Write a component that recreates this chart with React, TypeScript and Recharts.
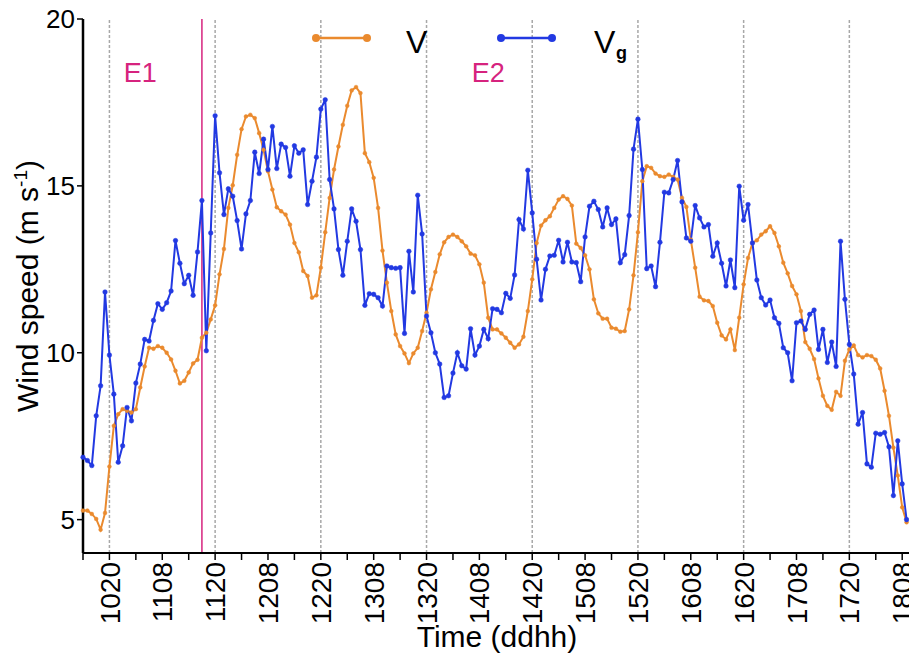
import { Line, LineChart, ReferenceLine, XAxis, YAxis } from "recharts";

// hourly samples starting at 10th 14:00 (ddhh = 1014)
const firstStamp = "1014";

const windV = [
  5.27, 5.27, 5.17, 5.02, 4.7, 5.2, 6.59, 7.81, 8.16, 8.31, 8.26, 8.21, 8.31, 8.96, 9.59, 10.15,
  10.12, 10.2, 10.15, 10.0, 9.8, 9.46, 9.08, 9.16, 9.41, 9.68, 9.79, 10.45, 10.6, 11.0, 11.42, 12.35,
  13.11, 14.34, 15.02, 15.93, 16.7, 17.08, 17.13, 17.03, 16.58, 16.08, 15.44, 14.89, 14.36, 14.24,
  14.14, 13.84, 13.29, 13.01, 12.45, 12.3, 11.65, 11.72, 12.55, 13.61, 14.64, 15.49, 16.18, 16.83,
  17.4, 17.86, 17.96, 17.78, 15.98, 15.71, 15.24, 14.34, 13.06, 12.1, 11.25, 10.55, 10.2, 9.98, 9.69,
  9.98, 10.15, 10.65, 11.2, 11.9, 12.42, 12.95, 13.31, 13.47, 13.54, 13.47, 13.34, 13.19, 12.97,
  12.92, 12.65, 12.1, 11.05, 10.7, 10.7, 10.58, 10.45, 10.3, 10.15, 10.25, 10.48, 11.25, 12.2, 13.29,
  13.81, 13.97, 14.09, 14.34, 14.59, 14.69, 14.61, 14.41, 13.27, 13.14, 12.92, 12.5, 11.6, 11.18,
  11.02, 11.02, 10.75, 10.72, 10.63, 10.65, 11.3, 12.32, 13.61, 15.14, 15.59, 15.54, 15.37, 15.29,
  15.27, 15.34, 15.27, 15.19, 14.64, 14.37, 13.39, 12.55, 11.68, 11.57, 11.55, 11.4, 10.9, 10.52,
  10.4, 10.7, 10.08, 11.05, 12.05, 12.84, 13.29, 13.37, 13.54, 13.64, 13.79, 13.59, 13.19, 12.7,
  12.38, 12.0, 11.75, 11.25, 10.32, 10.12, 9.81, 9.23, 8.71, 8.41, 8.29, 8.83, 8.71, 9.76, 10.1,
  10.22, 9.93, 9.86, 9.93, 9.9, 9.79, 9.53, 8.86, 8.11, 7.16, 6.32, 5.37, 4.92,
];

const windVg = [
  6.87, 6.77, 6.62, 8.11, 9.01, 11.82, 9.93, 8.76, 6.72, 7.21, 8.36, 7.96, 9.09, 9.66, 10.4, 10.35,
  10.97, 11.47, 11.3, 11.5, 11.85, 13.36, 12.68, 12.07, 12.32, 11.72, 13.02, 14.56, 10.06, 13.59,
  17.1, 15.39, 14.14, 14.91, 14.69, 13.96, 13.11, 14.16, 14.56, 16.01, 15.37, 16.4, 15.49, 16.78,
  15.52, 16.25, 16.15, 15.29, 16.2, 15.98, 16.08, 14.44, 15.14, 15.86, 17.3, 17.58, 15.19, 14.31,
  13.09, 12.32, 13.34, 14.31, 13.94, 13.09, 11.42, 11.77, 11.75, 11.65, 11.4, 12.6, 12.55, 12.53,
  12.55, 10.58, 13.04, 11.82, 14.72, 13.56, 11.1, 10.6, 10.0, 9.66, 8.66, 8.71, 9.39, 10.0, 9.61,
  9.51, 10.72, 9.93, 10.2, 10.7, 10.42, 11.32, 11.3, 11.2, 11.78, 11.63, 12.33, 13.99, 13.71, 15.47,
  14.19, 12.8, 11.58, 12.5, 12.9, 12.92, 13.37, 12.72, 13.31, 12.72, 12.7, 12.13, 13.47, 14.39,
  14.54, 14.29, 13.77, 14.34, 13.84, 14.01, 12.7, 12.94, 14.11, 16.1, 17.0, 15.49, 12.52, 12.6,
  11.98, 13.31, 14.81, 14.79, 15.19, 15.76, 14.52, 13.44, 13.34, 14.41, 14.04, 13.77, 13.84, 12.89,
  13.29, 12.68, 12.0, 12.78, 11.95, 14.99, 13.97, 14.44, 13.29, 12.18, 11.65, 11.43, 11.58, 11.05,
  10.88, 10.15, 10.0, 9.16, 10.9, 10.95, 10.7, 11.15, 11.28, 10.1, 10.7, 9.71, 10.32, 9.59, 13.34,
  11.6, 10.25, 9.36, 7.86, 8.21, 6.67, 6.57, 7.59, 7.56, 7.61, 7.18, 5.72, 7.36, 6.07, 5.0,
];

const timeLabels = [
  "1020", "1108", "1120", "1208", "1220", "1308", "1320", "1408",
  "1420", "1508", "1520", "1608", "1620", "1708", "1720", "1808",
];
const gridStamps = ["1020", "1120", "1220", "1320", "1420", "1520", "1620", "1720"];
const speedTicks = [5, 10, 15, 20];

const events = [
  { name: "E1", at: "1103", line: "1117" },
  { name: "E2", at: "1410", line: null },
];

const ORANGE = "#ea8a2e";
const BLUE = "#2239e2";
const PINK = "#d6237e";
const FONT = "'Liberation Sans', Arial, sans-serif";

// ddhh -> hours since the first sample
function hourOf(stamp: string) {
  const day = (s: string) => Number(s.slice(0, 2)) * 24 + Number(s.slice(2));
  return day(stamp) - day(firstStamp);
}

const rows = windV.map((v, i) => ({ hour: i, v, vg: windVg[i] }));
const labelByHour = new Map(timeLabels.map((t) => [hourOf(t), t]));
const xTicks = timeLabels.flatMap((t) => [hourOf(t) - 6, hourOf(t)]);

function TimeTick({ x, y, payload }: any) {
  const label = labelByHour.get(payload.value);
  if (!label) return null;
  const ty = y;
  return (
    <text
      x={x}
      y={ty}
      dy="0.36em"
      transform={`rotate(-90 ${x} ${ty})`}
      textAnchor="end"
      fontSize={28}
      fontFamily={FONT}
      fill="#000"
    >
      {label}
    </text>
  );
}

function SpeedLabel() {
  return (
    <text
      transform="translate(38 286) rotate(-90)"
      textAnchor="middle"
      fontSize={30}
      fontFamily={FONT}
      fill="#000"
    >
      Wind speed (m s
      <tspan dy={-11} fontSize={19}>-1</tspan>
      <tspan dy={11}>)</tspan>
    </text>
  );
}

// series key drawn inside the top of the plot
function SeriesKey() {
  const item = (x: number, color: string) => (
    <g>
      <line x1={x} y1={38} x2={x + 51} y2={38} stroke={color} strokeWidth={2.5} />
      <circle cx={x} cy={38} r={4} fill={color} />
      <circle cx={x + 51} cy={38} r={4} fill={color} />
    </g>
  );
  return (
    <svg
      width={909}
      height={70}
      style={{ position: "absolute", left: 0, top: 0, pointerEvents: "none" }}
    >
      {item(316, ORANGE)}
      <text x={406} y={53} fontSize={32} fontFamily={FONT}>V</text>
      {item(501, BLUE)}
      <text x={594} y={53} fontSize={32} fontFamily={FONT}>V</text>
      <text x={616} y={59} fontSize={18} fontFamily={FONT} fontWeight="bold">g</text>
    </svg>
  );
}

function eventText(name: string) {
  return ({ viewBox }: any) => (
    <text
      x={viewBox.x}
      y={viewBox.y + 63}
      textAnchor="middle"
      fontSize={27}
      fontFamily={FONT}
      fill={PINK}
    >
      {name}
    </text>
  );
}

export default function App() {
  return (
    <div
      style={{
        position: "fixed",
        left: 0,
        top: 0,
        width: 909,
        height: 656,
        overflow: "hidden",
        background: "#fff",
      }}
    >
      <LineChart
        width={930}
        height={656}
        data={rows}
        margin={{ top: 19, right: 19, bottom: 13, left: 23 }}
      >
        <XAxis
          dataKey="hour"
          type="number"
          domain={[0, 188]}
          ticks={xTicks}
          interval={0}
          height={90}
          tick={<TimeTick />}
          tickSize={7}
          tickLine={{ stroke: "#000", strokeWidth: 1.5 }}
          axisLine={{ stroke: "#000", strokeWidth: 2 }}
          label={{
            value: "Time (ddhh)",
            position: "insideBottom",
            offset: -4,
            fontSize: 30,
            fontFamily: FONT,
            fill: "#000",
          }}
        />
        <XAxis
          xAxisId="frame"
          orientation="top"
          dataKey="hour"
          type="number"
          domain={[0, 188]}
          height={0}
          tick={false}
          tickLine={false}
          axisLine={{ stroke: "#000", strokeWidth: 2.5 }}
        />
        <YAxis
          type="number"
          domain={[4, 20]}
          ticks={speedTicks}
          interval={0}
          width={60}
          tickSize={6}
          tickLine={{ stroke: "#000", strokeWidth: 1.5 }}
          axisLine={{ stroke: "#000", strokeWidth: 2.5 }}
          tick={{ fontSize: 26, fontFamily: FONT, fill: "#000" }}
          label={<SpeedLabel />}
        />
        {gridStamps.map((s) => (
          <ReferenceLine
            key={s}
            x={hourOf(s)}
            stroke="#a8a8a8"
            strokeWidth={1.5}
            strokeDasharray="3 2"
          />
        ))}
        {events.map((e) => (
          <ReferenceLine key={e.name} x={hourOf(e.at)} stroke="none" label={eventText(e.name)} />
        ))}
        {events
          .filter((e) => e.line)
          .map((e) => (
            <ReferenceLine key={e.name + "-line"} x={hourOf(e.line as string)} stroke={PINK} strokeWidth={1.5} />
          ))}
        <Line
          dataKey="v"
          type="linear"
          stroke={ORANGE}
          strokeWidth={2}
          dot={{ r: 1.9, fill: ORANGE, stroke: ORANGE, strokeWidth: 0.5 }}
          isAnimationActive={false}
        />
        <Line
          dataKey="vg"
          type="linear"
          stroke={BLUE}
          strokeWidth={2}
          dot={{ r: 2.3, fill: BLUE, stroke: BLUE, strokeWidth: 0.5 }}
          isAnimationActive={false}
        />
      </LineChart>
      <SeriesKey />
    </div>
  );
}
